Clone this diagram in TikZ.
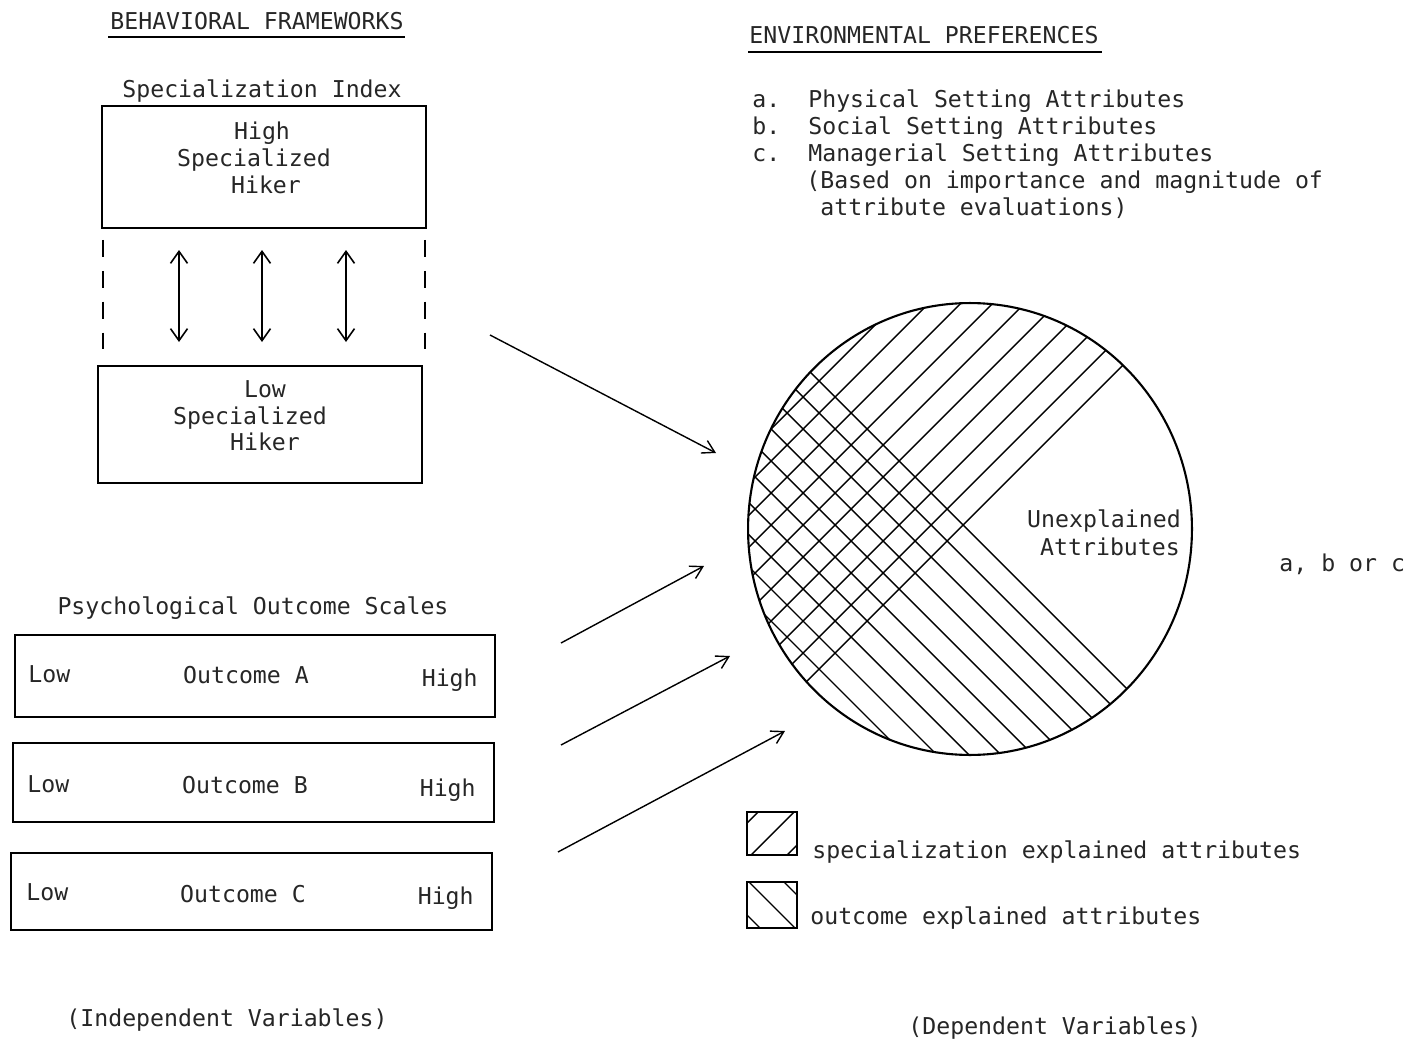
\documentclass[tikz,border=0pt]{standalone}
\usepackage{fontspec}
\setmainfont{DejaVu Sans Mono}
\usetikzlibrary{arrows.meta,shapes.geometric}
\begin{document}
\begin{tikzpicture}[x=0.02cm,y=-0.02cm,
  every node/.style={font=\fontsize{13.2}{16}\selectfont, inner sep=0pt, text=black!85},
  frame/.style={draw, line width=1.1pt},
  hatch/.style={line width=0.8pt},
  arr/.style={line width=0.8pt, -{Straight Barb[length=2.4mm,width=2.8mm]}},
  twoway/.style={line width=0.9pt, {Straight Barb[length=2.4mm,width=3.4mm]}-{Straight Barb[length=2.4mm,width=3.4mm]}},
  cbase/.style={anchor=base},
  lbase/.style={anchor=base west},
  rbase/.style={anchor=base east}]
\useasboundingbox (0,0) rectangle (1416,1044);

% ---------------- left column: behavioral frameworks ----------------
\node[cbase] (bf) at (257,30) {BEHAVIORAL FRAMEWORKS};
\draw[line width=0.7pt] (108,37) -- (405,37);
\node[cbase] (si) at (262,98) {Specialization Index};

\node[frame, minimum width=6.48cm, minimum height=2.44cm] (hibox) at (264,167) {};
\node[cbase] (hi1) at (262,140) {High};
\node[cbase] (hi2) at (254,167) {Specialized};
\node[cbase] (hi3) at (266,194) {Hiker};

\draw[line width=1.1pt, dash pattern=on 9.6pt off 7.97pt] (103,240) -- (103,350);
\draw[line width=1.1pt, dash pattern=on 9.6pt off 7.97pt] (425,240) -- (425,350);

\coordinate (u1) at (179,250); \coordinate (d1) at (179,342);
\coordinate (u2) at (262,250); \coordinate (d2) at (262,342);
\coordinate (u3) at (346,250); \coordinate (d3) at (346,342);
\draw[twoway] (u1) -- (d1);
\draw[twoway] (u2) -- (d2);
\draw[twoway] (u3) -- (d3);

\node[frame, minimum width=6.48cm, minimum height=2.34cm] (lobox) at (260,424.5) {};
\node[cbase] (lo1) at (265,397) {Low};
\node[cbase] (lo2) at (250,424) {Specialized};
\node[cbase] (lo3) at (265,450) {Hiker};

% ---------------- psychological outcome scales ----------------
\node[cbase] (pos) at (253,614) {Psychological Outcome Scales};

\node[frame, minimum width=9.6cm, minimum height=1.64cm] (oa) at (255,676) {};
\node[lbase] (oal) at (28,682) {Low};
\node[cbase] (oam) at (246,683) {Outcome A};
\node[rbase] (oah) at (478,686) {High};

\node[frame, minimum width=9.62cm, minimum height=1.58cm] (ob) at (253.5,782.5) {};
\node[lbase] (obl) at (27,792) {Low};
\node[cbase] (obm) at (245,793) {Outcome B};
\node[rbase] (obh) at (476,796) {High};

\node[frame, minimum width=9.62cm, minimum height=1.54cm] (oc) at (251.5,891.5) {};
\node[lbase] (ocl) at (26,900) {Low};
\node[cbase] (ocm) at (243,902) {Outcome C};
\node[rbase] (och) at (474,904) {High};

\node[cbase] (iv) at (227,1026) {(Independent Variables)};

% ---------------- arrows into the preference circle ----------------
\coordinate (s1) at (490,335); \coordinate (e1) at (716,453);
\coordinate (s2) at (561,643); \coordinate (e2) at (704,566);
\coordinate (s3) at (561,745); \coordinate (e3) at (730,656);
\coordinate (s4) at (558,852); \coordinate (e4) at (785,731);
\draw[arr] (s1) -- (e1);
\draw[arr] (s2) -- (e2);
\draw[arr] (s3) -- (e3);
\draw[arr] (s4) -- (e4);

% ---------------- right column: environmental preferences ----------------
\node[cbase] (ep) at (924,44) {ENVIRONMENTAL PREFERENCES};
\draw[line width=0.7pt] (748,52) -- (1102,52);
\node[lbase] (ka) at (752,108) {a.};
\node[lbase] (ta) at (808,108) {Physical Setting Attributes};
\node[lbase] (kb) at (752,135) {b.};
\node[lbase] (tb) at (808,135) {Social Setting Attributes};
\node[lbase] (kc) at (752,162) {c.};
\node[lbase] (tc) at (808,162) {Managerial Setting Attributes};
\node[lbase] (n1) at (806,189) {(Based on importance and magnitude of};
\node[lbase] (n2) at (820,215) {attribute evaluations)};

% circle with the two hatched shares
\begin{scope}
  \clip (970,529) ellipse [x radius=222, y radius=226];
  % specialization explained: "/" lines
  \foreach \k in {0,...,11}{
    \pgfmathsetmacro\c{1488-32*\k}
    \draw[hatch] (\c-250,250) -- (\c-800,800);
  }
  % outcome explained: "\" lines
  \foreach \k in {0,...,11}{
    \pgfmathsetmacro\c{438-32*\k}
    \draw[hatch] (\c+250,250) -- (\c+800,800);
  }
\end{scope}
\node[draw, line width=1.2pt, ellipse, minimum width=8.88cm, minimum height=9.04cm] (pie) at (970,529) {};
\node[cbase] (ua) at (1104,527) {Unexplained};
\node[cbase] (ub) at (1110,555) {Attributes};
\node[lbase] (abc) at (1279,571) {a, b or c};

% legend
\node[frame, minimum width=1cm, minimum height=0.86cm] (lg1) at (772,833.5) {};
\begin{scope}
  \clip (lg1.south west) rectangle (lg1.north east);
  \foreach \c in {1570,1606,1642}
    \draw[hatch] (\c-780,780) -- (\c-880,880);
\end{scope}
\node[lbase] (lt1) at (812,858) {specialization explained attributes};

\node[frame, minimum width=1cm, minimum height=0.92cm] (lg2) at (772,905) {};
\begin{scope}
  \clip (lg2.south west) rectangle (lg2.north east);
  \foreach \c in {-168,-133,-98}
    \draw[hatch] (\c+850,850) -- (\c+960,960);
\end{scope}
\node[lbase] (lt2) at (810,924) {outcome explained attributes};

\node[cbase] (dv) at (1055,1034) {(Dependent Variables)};
\end{tikzpicture}
\end{document}
